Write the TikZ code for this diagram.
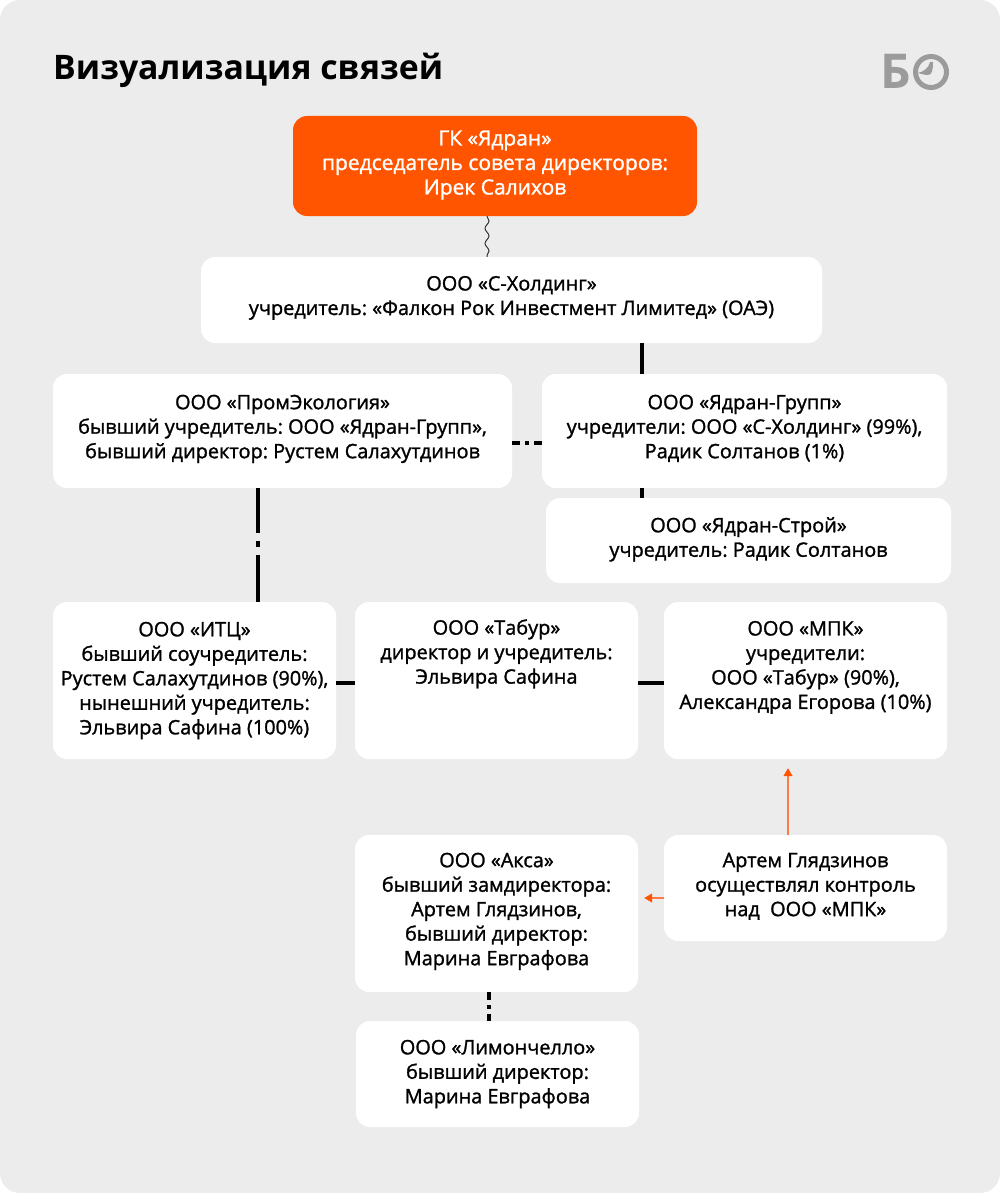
\documentclass[tikz,border=0pt]{standalone}
\usepackage{fontspec}
\setmainfont{Open Sans}
\newfontfamily\boxfont[FakeBold=1.3]{Open Sans}
\usetikzlibrary{arrows.meta,decorations.pathmorphing}

\definecolor{bgGrey}{HTML}{ECECEC}
\definecolor{headOrange}{HTML}{FF5500}
\definecolor{arrowOrange}{HTML}{FF7B45}
\definecolor{logoGrey}{HTML}{9B9B9B}

% deeper last line, lifts the text of a box
\newcommand{\lifttext}[1]{\rule[-#1pt]{0pt}{0pt}}

\tikzset{
	infobox/.style={fill=white,rounded corners=14pt,inner sep=0pt,align=center,
		font=\boxfont\fontsize{19.9}{24.5}\selectfont\frenchspacing,text=black},
	headbox/.style={infobox,fill=headOrange,text=white,
		font=\boxfont\fontsize{21}{24.5}\selectfont\frenchspacing},
	solidlink/.style={line width=4pt,black},
	wavelink/.style={line width=1pt,black!80,decorate,
		decoration={snake,amplitude=2pt,segment length=15pt}},
	controllink/.style={line width=1.2pt,arrowOrange,shorten >=9pt,
		-{Triangle[length=8pt,width=9pt,color=headOrange]}},
}

\begin{document}
\begin{tikzpicture}[x=1pt,y=-1pt]
	\useasboundingbox (0,0) rectangle (1000,1193);
	\fill[bgGrey,rounded corners=20pt] (0,0) rectangle (1000,1193);

	\node[anchor=west,inner sep=0pt,font=\bfseries\fontsize{33.8}{40}\selectfont] (title) at (53,70) {Визуализация связей};

	% logo
	\node[anchor=west,inner sep=0pt,text=logoGrey,font=\bfseries\fontsize{48}{48}\selectfont] (logob) at (880,71) {Б};
	\node[circle,draw=logoGrey,line width=5pt,minimum size=31pt,inner sep=0pt] (logoo) at (931,72) {};
	\fill[logoGrey] (930,62) -- (933,62) .. controls (933,70) and (932,75) .. (928,75) .. controls (925,75) and (921,74) .. (918,73) .. controls (923,72) and (929,68) .. cycle;

	% boxes
	\node[headbox,minimum width=404pt,minimum height=100pt] (yadran) at (495,166)
		{ГК «Ядран»\\председатель совета директоров:\\Ирек Салихов\lifttext{7}};
	\node[infobox,minimum width=621pt,minimum height=86pt] (sholding) at (511.5,300)
		{ООО «С-Холдинг»\\учредитель: «Фалкон Рок Инвестмент Лимитед» (ОАЭ)\lifttext{9}};
	\node[infobox,minimum width=459pt,minimum height=114pt] (promeco) at (282.5,431)
		{ООО «ПромЭкология»\\бывший учредитель: ООО «Ядран-Групп»,\\бывший директор: Рустем Салахутдинов\lifttext{9}};
	\node[infobox,minimum width=405pt,minimum height=114pt] (ygroup) at (744.5,431)
		{ООО «Ядран-Групп»\\учредители: ООО «С-Холдинг» (99\%),\\Радик Солтанов (1\%)\lifttext{9}};
	\node[infobox,minimum width=405pt,minimum height=85pt] (ystroy) at (748.5,540.5)
		{ООО «Ядран-Строй»\\учредитель: Радик Солтанов\lifttext{7}};
	\node[infobox,minimum width=283pt,minimum height=157pt] (itc) at (194.5,680.5)
		{ООО «ИТЦ»\\бывший соучредитель:\\Рустем Салахутдинов (90\%),\\нынешний учредитель:\\Эльвира Сафина (100\%)};
	\node[infobox,minimum width=283pt,minimum height=157pt] (tabur) at (496.5,680.5)
		{ООО «Табур»\\директор и учредитель:\\Эльвира Сафина\lifttext{58}};
	\node[infobox,minimum width=283pt,minimum height=157pt] (mpk) at (805.5,680.5)
		{ООО «МПК»\\учредители:\\ООО «Табур» (90\%),\\Александра Егорова (10\%)\lifttext{31}};
	\node[infobox,minimum width=283pt,minimum height=157pt] (aksa) at (496.5,913.5)
		{ООО «Акса»\\бывший замдиректора:\\Артем Глядзинов,\\бывший директор:\\Марина Евграфова\lifttext{9}};
	\node[infobox,minimum width=283pt,minimum height=106pt] (artem) at (805.5,888)
		{Артем Глядзинов\\осуществлял контроль\\над\ \ ООО «МПК»\lifttext{7}};
	\node[infobox,minimum width=283pt,minimum height=106pt] (limon) at (497.5,1074)
		{ООО «Лимончелло»\\бывший директор:\\Марина Евграфова};

	% links
	\coordinate (groupx) at (642,443);
	\coordinate (wavex) at (487,0);
	\coordinate (itcx) at (257.5,0);
	\coordinate (limonx) at (488.5,0);
	\coordinate (tabury) at (0,683);
	\coordinate (artemup) at (788,0);
	\coordinate (artemleft) at (0,898);

	\draw[wavelink] (yadran.south -| wavex) -- (sholding.north -| wavex);
	\draw[solidlink] (sholding.south -| groupx) -- (ygroup.north -| groupx);
	\draw[solidlink] (ygroup.south -| groupx) -- (ystroy.north -| groupx);
	\draw[solidlink,dash pattern=on 8pt off 5pt on 4pt off 5pt on 8pt] (promeco.east |- groupx) -- (ygroup.west |- groupx);
	\draw[solidlink,dash pattern=on 45pt off 8pt on 6pt off 8pt on 47pt] (promeco.south -| itcx) -- (itc.north -| itcx);
	\draw[solidlink] (itc.east |- tabury) -- (tabur.west |- tabury);
	\draw[solidlink] (tabur.east |- tabury) -- (mpk.west |- tabury);
	\draw[solidlink,dash pattern=on 8pt off 5pt on 3.5pt off 5pt on 8pt] (aksa.south -| limonx) -- (limon.north -| limonx);
	\draw[controllink] (artem.north -| artemup) -- (mpk.south -| artemup);
	\draw[controllink,shorten >=6pt] (artem.west |- artemleft) -- (aksa.east |- artemleft);
\end{tikzpicture}
\end{document}
